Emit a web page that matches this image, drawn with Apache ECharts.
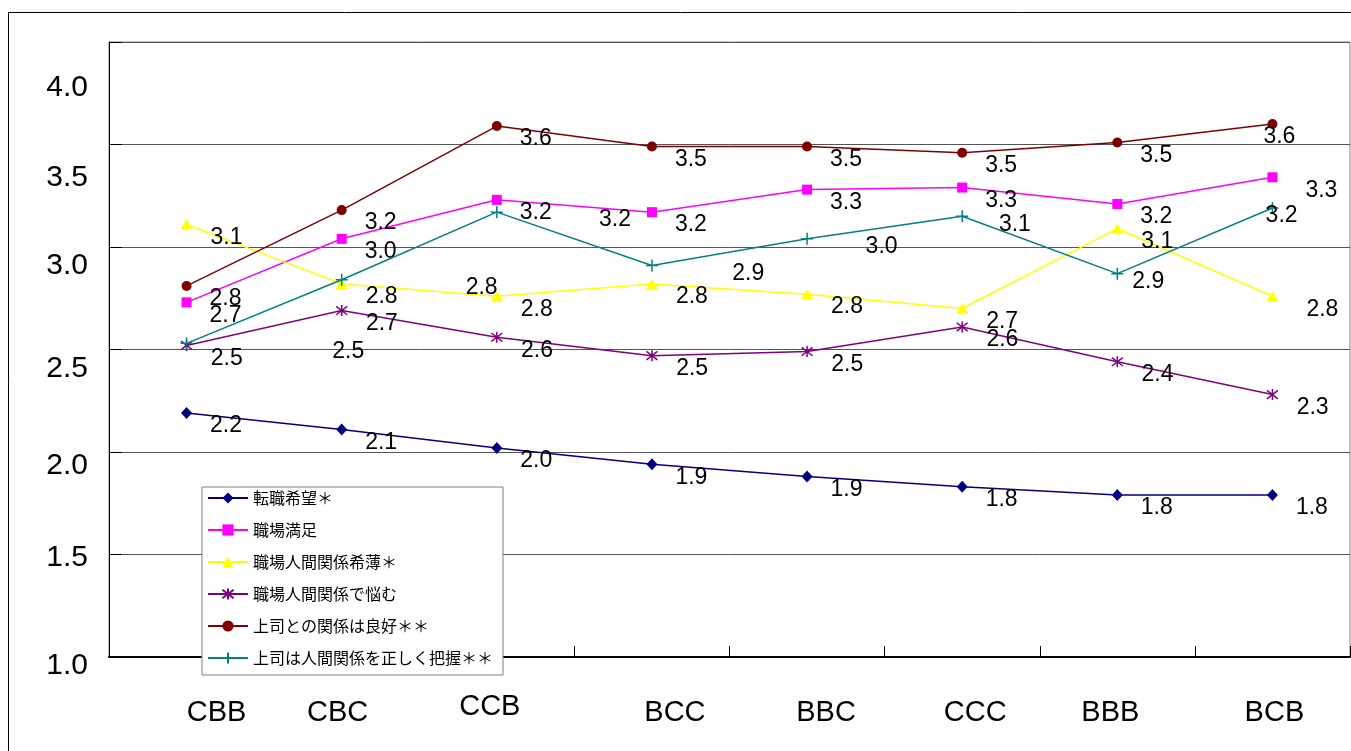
<!DOCTYPE html>
<html>
<head>
<meta charset="utf-8">
<script src="https://cdn.jsdelivr.net/npm/echarts@6/dist/echarts.min.js"></script>
<style>
  html, body { margin: 0; padding: 0; background: #fff; }
  #chart { width: 1351px; height: 751px; }
</style>
</head>
<body>
<div id="chart"></div>
<script>
// Categories along the x axis
const categories = ['CBB', 'CBC', 'CCB', 'BCC', 'BBC', 'CCC', 'BBB', 'BCB'];

// Mean scores for each group
const tenshokuKibou   = [2.19, 2.11, 2.02, 1.94, 1.88, 1.83, 1.79, 1.79]; // 転職希望＊
const shokubaManzoku  = [2.73, 3.04, 3.23, 3.17, 3.28, 3.29, 3.21, 3.34]; // 職場満足
const kankeiKihaku    = [3.11, 2.82, 2.76, 2.82, 2.77, 2.70, 3.09, 2.76]; // 職場人間関係希薄＊
const kankeiNayamu    = [2.52, 2.69, 2.56, 2.47, 2.49, 2.61, 2.44, 2.28]; // 職場人間関係で悩む
const joushiRyoukou   = [2.81, 3.18, 3.59, 3.49, 3.49, 3.46, 3.51, 3.60]; // 上司との関係は良好＊＊
const joushiHaaku     = [2.53, 2.84, 3.17, 2.91, 3.04, 3.15, 2.87, 3.19]; // 上司は人間関係を正しく把握＊＊

// Legend names
const seriesNames = [
  '転職希望＊',
  '職場満足',
  '職場人間関係希薄＊',
  '職場人間関係で悩む',
  '上司との関係は良好＊＊',
  '上司は人間関係を正しく把握＊＊'
];

// Value axis range
const yMin = 1.0;
const yMax = 4.0;
const yStep = 0.5;

const NUM_FONT = "'Liberation Sans', Arial, sans-serif";
const CAT_FONT = "'Liberation Sans', Arial, sans-serif";
const JP_FONT = "'Noto Sans CJK JP', sans-serif";

// Marker shapes drawn as strokes
const ASTERISK = 'path://M5,0 L5,10 M0.7,1.2 L9.3,8.8 M0.7,8.8 L9.3,1.2';
const PLUS = 'path://M5,0 L5,10 M0,5 L10,5';

// Small per-label nudges (dx, dy) so the value labels sit clear of the lines
function labelNudge(seriesIdx, i) {
  const n = categories.length;
  let dx = 0, dy = 0;
  if (seriesIdx === 5) { dx = 121 - 21.8 * i; dy = -5; }
  if (i === n - 1) {
    if (seriesIdx === 4) dx = -32;
    if (seriesIdx === 1 || seriesIdx === 2) dx = 10;
  }
  return [13 + dx, 13 + dy];
}

const styles = [
  { color: '#000080', symbol: 'diamond', size: [11, 12] },
  { color: '#FF00FF', symbol: 'rect', size: 10 },
  { color: '#FFFF00', symbol: 'triangle', size: [12, 10] },
  { color: '#800080', symbol: ASTERISK, size: 11 },
  { color: '#800000', symbol: 'circle', size: 10 },
  { color: '#008080', symbol: PLUS, size: 12 }
];

const allValues = [tenshokuKibou, shokubaManzoku, kankeiKihaku, kankeiNayamu, joushiRyoukou, joushiHaaku];

const series = allValues.map((vals, s) => {
  const st = styles[s];
  const stroked = (s === 3 || s === 5);
  return {
    name: seriesNames[s],
    type: 'line',
    data: vals.map((v, i) => ({ value: v, label: { offset: labelNudge(s, i) } })),
    symbol: st.symbol,
    symbolSize: st.size,
    showAllSymbol: true,
    lineStyle: { color: st.color, width: 1.5 },
    itemStyle: stroked
      ? { color: st.color, borderColor: st.color, borderWidth: 1.5 }
      : { color: st.color, borderWidth: 0 },
    label: {
      show: true,
      position: 'right',
      distance: 5,
      formatter: p => p.value.toFixed(1),
      color: '#000',
      fontFamily: NUM_FONT,
      fontSize: 23
    },
    emphasis: { disabled: true },
    animation: false,
    z: 2 + s
  };
});

// Individual shifts of the axis tick labels
const xLabelShift = [[30, 0], [-4, 0], [-7, -6], [23, 0], [19, 0], [13, 0], [-7, 0], [2, 0]];
const xRich = {};
xLabelShift.forEach(([dx, dy], i) => {
  xRich['c' + i] = {
    fontFamily: CAT_FONT, fontSize: 29, color: '#000',
    padding: [6 + dy, dx < 0 ? -2 * dx : 0, 0, dx > 0 ? 2 * dx : 0]
  };
});

const yLabelDrop = { '1.0': 9, '1.5': 3, '2.0': 14, '2.5': 19, '3.0': 19, '3.5': 33, '4.0': 46 };
const yRich = {};
Object.keys(yLabelDrop).forEach(k => {
  yRich['v' + k.replace('.', '_')] = {
    fontFamily: NUM_FONT, fontSize: 30, color: '#000',
    padding: [2 * yLabelDrop[k], 0, 0, 0]
  };
});

const chart = echarts.init(document.getElementById('chart'), null, { renderer: 'canvas' });
chart.setOption({
  backgroundColor: '#fff',
  animation: false,
  graphic: [{
    type: 'rect',
    silent: true,
    shape: { x: 8.5, y: 12.5, width: 1400, height: 800 },
    style: { fill: 'none', stroke: '#000', lineWidth: 1 },
    z: 100
  }],
  grid: {
    left: 109, right: 1, top: 42, bottom: 94,
    show: true, borderColor: '#808080', borderWidth: 1,
    outerBoundsMode: 'none'
  },
  legend: {
    orient: 'vertical',
    left: 202, top: 487,
    padding: [3, 10, 9, 5],
    itemGap: 16,
    itemWidth: 40,
    itemHeight: 14,
    backgroundColor: '#fff',
    borderColor: '#808080',
    borderWidth: 1,
    borderRadius: 0,
    selectedMode: false,
    textStyle: { fontFamily: JP_FONT, fontSize: 16, lineHeight: 16, color: '#000' },
    data: seriesNames,
    z: 10
  },
  xAxis: {
    type: 'category',
    data: categories,
    boundaryGap: true,
    axisLine: { show: true, lineStyle: { color: '#000', width: 2 } },
    axisTick: { show: true, inside: true, length: 11, interval: 0, lineStyle: { color: '#000', width: 1 } },
    axisLabel: {
      interval: 0,
      margin: 35,
      formatter: (v, i) => '{c' + i + '|' + v + '}',
      rich: xRich
    },
    splitLine: { show: false }
  },
  yAxis: {
    type: 'value',
    min: yMin, max: yMax, interval: yStep,
    axisLine: { show: true, lineStyle: { color: '#000', width: 1 } },
    axisTick: { show: true, inside: true, length: 13, lineStyle: { color: '#000', width: 1 } },
    axisLabel: {
      margin: 21,
      formatter: v => '{v' + v.toFixed(1).replace('.', '_') + '|' + v.toFixed(1) + '}',
      rich: yRich
    },
    splitLine: { show: true, lineStyle: { color: '#555', width: 1 } }
  },
  series: series
});
</script>
</body>
</html>
